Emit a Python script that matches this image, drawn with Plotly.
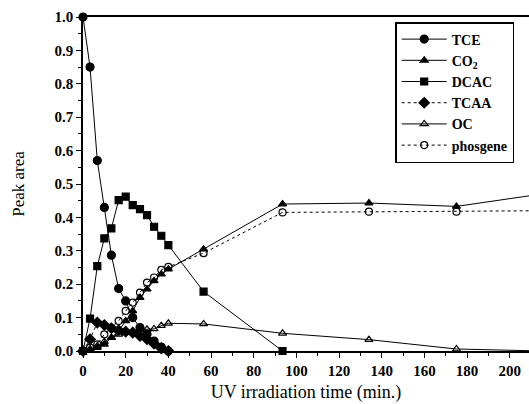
import plotly.graph_objects as go

# Time points (min.)
t_early = [0, 3.3, 6.7, 10, 13.3, 16.7, 20, 23.3, 26.7, 30, 33.3, 36.7, 40]
t_late = [56.5, 93.5, 134, 175, 215]

tce_t = t_early
tce = [1.0, 0.85, 0.57, 0.43, 0.287, 0.187, 0.15, 0.10, 0.07, 0.05, 0.03, 0.012, 0.0]

co2_t = t_early + t_late
co2 = [0.0, 0.005, 0.01, 0.02, 0.04, 0.06, 0.09, 0.12, 0.16, 0.185, 0.21, 0.23, 0.245,
       0.305, 0.44, 0.443, 0.433, 0.47]

dcac_t = t_early + [56.5, 93.5]
dcac = [0.0, 0.097, 0.254, 0.337, 0.367, 0.452, 0.462, 0.437, 0.425, 0.407, 0.372, 0.345, 0.317,
        0.178, 0.0]

tcaa_t = t_early
tcaa = [0.0, 0.035, 0.085, 0.078, 0.068, 0.062, 0.058, 0.055, 0.045, 0.035, 0.022, 0.008, 0.0]

oc_t = t_early + t_late
oc = [0.0, 0.005, 0.015, 0.028, 0.04, 0.05, 0.055, 0.06, 0.064, 0.065, 0.066, 0.076, 0.083,
      0.081, 0.053, 0.034, 0.006, 0.0]

phos_t = t_early + t_late
phos = [0.0, 0.01, 0.02, 0.05, 0.07, 0.09, 0.12, 0.145, 0.175, 0.205, 0.22, 0.243, 0.252,
        0.293, 0.415, 0.417, 0.417, 0.42]

x_ticks = list(range(0, 201, 20))
y_ticks = [round(0.1 * i, 1) for i in range(11)]

series = [
    ("TCE", tce_t, tce, "circle", "solid", 8),
    ("CO<sub>2</sub>", co2_t, co2, "triangle-up", "solid", 7),
    ("DCAC", dcac_t, dcac, "square", "solid", 7),
    ("TCAA", tcaa_t, tcaa, "diamond", "dot", 8),
    ("OC", oc_t, oc, "triangle-up-open", "solid", 7),
    ("phosgene", phos_t, phos, "circle-open", "dot", 7),
]

fig = go.Figure()
for name, xs, ys, sym, dash, sz in series:
    fig.add_trace(go.Scatter(
        x=xs, y=ys, name=name, mode="lines+markers",
        line=dict(color="black", width=1, dash=dash),
        marker=dict(symbol=sym, size=sz, color="black",
                    line=dict(color="black", width=1.2)),
        cliponaxis=False,
    ))

serif = "Liberation Serif, Times New Roman, serif"
fig.update_layout(
    width=529, height=404,
    margin=dict(l=83, r=0, t=17, b=53, autoexpand=False),
    paper_bgcolor="white", plot_bgcolor="white",
    font=dict(family=serif, color="black"),
    showlegend=True,
    legend=dict(
        x=0.70, y=0.985, xanchor="left", yanchor="top",
        bordercolor="black", borderwidth=1.5, bgcolor="white",
        font=dict(family=serif, size=14, color="black", weight="bold"),
        itemwidth=45, tracegroupgap=0,
    ),
    xaxis=dict(
        range=[0, 209], tickvals=x_ticks, ticktext=[str(v) for v in x_ticks],
        showgrid=False, zeroline=False, showline=True, linecolor="black", linewidth=1.5,
        mirror=True, ticks="outside", ticklen=5, tickcolor="black",
        minor=dict(dtick=10, tick0=0, ticks="outside", ticklen=3, tickcolor="black"),
        tickfont=dict(family=serif, size=15, color="black", weight="bold"),
        title=dict(text="UV irradiation time (min.)", font=dict(family=serif, size=18), standoff=8),
    ),
    yaxis=dict(
        range=[0, 1.0], tickvals=y_ticks, ticktext=[f"{v:.1f}" for v in y_ticks],
        showgrid=False, zeroline=False, showline=True, linecolor="black", linewidth=1.5,
        ticks="outside", ticklen=5, tickcolor="black",
        minor=dict(dtick=0.05, tick0=0, ticks="outside", ticklen=3, tickcolor="black"),
        tickfont=dict(family=serif, size=15, color="black", weight="bold"),
        title=dict(text="Peak area", font=dict(family=serif, size=17), standoff=26),
    ),
)

fig.write_html("out.html", config={"displayModeBar": False},
               post_script="document.body.style.margin='0';")
